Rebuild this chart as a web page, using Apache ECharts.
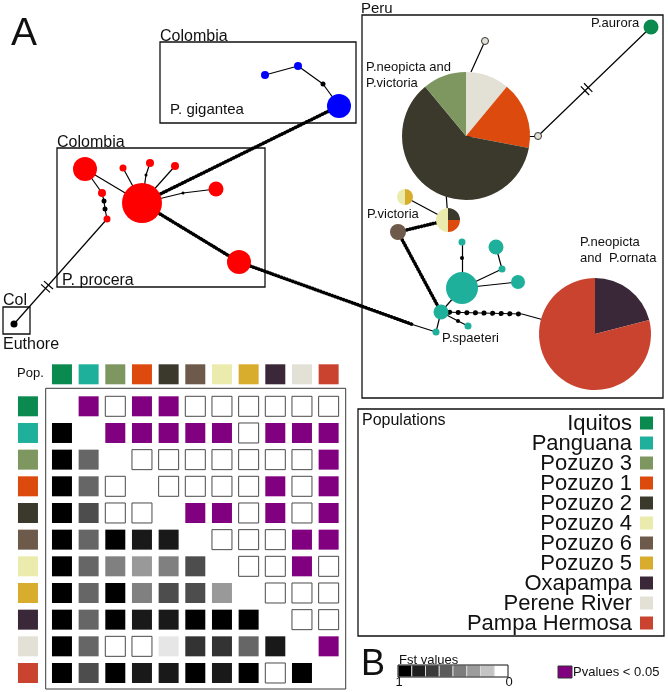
<!DOCTYPE html>
<html>
<head>
<meta charset="utf-8">
<title>Haplotype network and pairwise Fst</title>
<script src="https://cdn.jsdelivr.net/npm/echarts@6/dist/echarts.min.js"></script>
<style>
html, body { margin: 0; padding: 0; background: #fff; }
#main { width: 668px; height: 692px; }
</style>
</head>
<body>
<div id="main"></div>
<script>
// populations, legend order
var legendPops = ['Iquitos', 'Panguana', 'Pozuzo 3', 'Pozuzo 1', 'Pozuzo 2', 'Pozuzo 4', 'Pozuzo 6', 'Pozuzo 5', 'Oxapampa', 'Perene River', 'Pampa Hermosa'];
// populations, matrix order (rows and columns)
var matrixPops = ['Iquitos', 'Panguana', 'Pozuzo 3', 'Pozuzo 1', 'Pozuzo 2', 'Pozuzo 6', 'Pozuzo 4', 'Pozuzo 5', 'Oxapampa', 'Perene River', 'Pampa Hermosa'];

var popColors = {
    'Iquitos': '#0b8a50',
    'Panguana': '#1fb09c',
    'Pozuzo 3': '#7e9660',
    'Pozuzo 1': '#dc4a0e',
    'Pozuzo 2': '#3b392c',
    'Pozuzo 4': '#ecebae',
    'Pozuzo 6': '#6d5a4a',
    'Pozuzo 5': '#d8ac2c',
    'Oxapampa': '#3a2838',
    'Perene River': '#e3e1d6',
    'Pampa Hermosa': '#c9432e',
    'procera': '#ff0000',
    'gigantea': '#0000ff',
    'median': '#000000'
}

// pairwise Fst, lower triangle (row i, columns 0..i-1)
var fstRows = [
    [],
    [1],
    [1, 0.6],
    [1, 0.6, 0],
    [1, 0.7, 0, 0],
    [1, 0.6, 1, 0.9, 0.9],
    [1, 0.6, 0.5, 0.4, 0.5, 0.7],
    [1, 0.6, 1, 0.5, 0.7, 0.7, 0.4],
    [1, 0.6, 1, 0.9, 0.9, 1, 1, 1],
    [1, 0.6, 0, 0, 0.1, 0.8, 0.8, 0.6, 0.9],
    [1, 0.7, 1, 0.9, 0.9, 1, 0.9, 1, 0, 1]
]
// p < 0.05, upper triangle (row i, columns i+1..10), 1 = significant
var pSigRows = [
    [1, 0, 1, 1, 0, 0, 0, 0, 0, 0],
    [1, 1, 1, 1, 1, 0, 1, 1, 1],
    [0, 0, 0, 0, 0, 0, 0, 1],
    [0, 0, 0, 0, 1, 0, 1],
    [1, 1, 0, 1, 0, 1],
    [0, 0, 0, 1, 1],
    [0, 0, 1, 0],
    [0, 0, 0],
    [0, 0],
    [1],
    []
]
var fstLegend = [1, 0.88, 0.77, 0.64, 0.51, 0.39, 0.23, 0];

// haplotype network: [id, x, y, size, group]
var nodes = [
    ['eu', 14, 324, 7, 'median'],
    ['r0', 142, 203, 40, 'procera'],
    ['r1', 85, 169, 24, 'procera'],
    ['r2', 123, 168, 7, 'procera'],
    ['r3', 150, 163, 8, 'procera'],
    ['r4', 175, 166, 8, 'procera'],
    ['r5', 216, 189, 15, 'procera'],
    ['r6', 102, 193, 8, 'procera'],
    ['r7', 107, 219, 7, 'procera'],
    ['r8', 239, 262, 24, 'procera'],
    ['m1', 104, 201, 5, 'median'],
    ['m2', 105, 209, 5, 'median'],
    ['m3', 146, 175, 3, 'median'],
    ['m4', 183, 193, 3, 'median'],
    ['b0', 339, 106, 24, 'gigantea'],
    ['b1', 298, 66, 8, 'gigantea'],
    ['b2', 265, 75, 8, 'gigantea'],
    ['m5', 323, 84, 5, 'median'],
    ['pie1', 466, 136, 0, ''],
    ['a1', 471, 72, 0, ''],
    ['a2', 446, 192, 0, ''],
    ['pe1', 485, 41, 7, 'Perene River'],
    ['pe2', 538, 136, 7, 'Perene River'],
    ['aur', 651, 27, 15, 'Iquitos'],
    ['q4', 448, 220, 0, ''],
    ['h2', 405, 197, 0, ''],
    ['br', 398, 232, 16, 'Pozuzo 6'],
    ['t0', 462, 288, 32, 'Panguana'],
    ['t1', 462, 242, 7, 'Panguana'],
    ['m6', 462, 258, 4, 'median'],
    ['t2', 496, 247, 15, 'Panguana'],
    ['t3', 502, 269, 7, 'Panguana'],
    ['t4', 518, 282, 14, 'Panguana'],
    ['hub', 441, 312, 15, 'Panguana'],
    ['t5', 436, 332, 7, 'Panguana'],
    ['t6', 468, 326, 7, 'Panguana'],
    ['m7', 458, 321, 4, 'median'],
    ['pie2', 595, 334, 0, ''],
    ['a3', 522, 314, 0, ''],
    ['a4', 414, 325, 0, '']
]
var thinEdges = [
    ['eu', 'r7'], ['r7', 'm2'], ['m2', 'm1'], ['m1', 'r6'], ['r6', 'r1'], ['r1', 'r0'],
    ['r0', 'r2'], ['r0', 'm3'], ['m3', 'r3'], ['r0', 'r4'], ['r0', 'm4'], ['m4', 'r5'],
    ['b0', 'm5'], ['m5', 'b1'], ['b1', 'b2'],
    ['a1', 'pe1'], ['pie1', 'pe2'], ['pe2', 'aur'], ['a2', 'q4'], ['q4', 'h2'],
    ['t0', 'm6'], ['m6', 't1'], ['t0', 't3'], ['t3', 't2'], ['t0', 't4'], ['t0', 'hub'],
    ['hub', 't5'], ['hub', 'm7'], ['m7', 't6'], ['a4', 't5'], ['a3', 'pie2']
]
var beadEdges = [['r0', 'b0'], ['r0', 'r8'], ['r8', 'a4'], ['br', 'q4'], ['br', 'hub']];
var bigBeadEdges = [['hub', 'a3']];
var breaks = [['r7', 'eu', 0.645], ['pe2', 'aur', 0.43]];

// haplotypes shared by several populations
var pie1Pops = ['Perene River', 'Pozuzo 1', 'Pozuzo 2', 'Pozuzo 3'];
var pie1Vals = [11, 17, 61, 11];
var pie2Pops = ['Oxapampa', 'Pampa Hermosa'];
var pie2Vals = [21, 79];
var q4Pops = ['Pozuzo 2', 'Pozuzo 1', 'Pozuzo 4'];
var q4Vals = [1, 1, 2];
var h2Pops = ['Pozuzo 5', 'Pozuzo 4'];
var h2Vals = [1, 1];

var FONT = '"Liberation Sans", Arial, sans-serif';

var chart = echarts.init(document.getElementById('main'));

var byId = {};
nodes.forEach(function (n) { byId[n[0]] = n; });
var xy = function (id) { return [byId[id][1], byId[id][2]]; };

var graphData = nodes.map(function (n) {
    var perene = n[4] === 'Perene River';
    return {
        name: n[0],
        value: [n[1], n[2]],
        symbolSize: n[3],
        itemStyle: {
            color: popColors[n[4]] || 'rgba(0,0,0,0)',
            borderColor: perene ? '#333' : 'rgba(0,0,0,0)',
            borderWidth: perene ? 1 : 0,
            opacity: 1
        }
    }
})
var links = thinEdges.concat(beadEdges, bigBeadEdges).map(function (e) {
    return { source: e[0], target: e[1] };
})

// little double bars on the shortened branches
var hashData = [];
breaks.forEach(function (b) {
    var p = xy(b[0]), q = xy(b[1]);
    var dx = q[0] - p[0], dy = q[1] - p[1];
    var len = Math.sqrt(dx * dx + dy * dy);
    var ux = dx / len, uy = dy / len;
    var cx = p[0] + dx * b[2], cy = p[1] + dy * b[2];
    [-2.2, 2.2].forEach(function (s) {
        var mx = cx + ux * s, my = cy + uy * s;
        hashData.push({ coords: [[mx - uy * 6, my + ux * 6], [mx + uy * 6, my - ux * 6]] });
    })
})

function gray(v) {
    var g = Math.round(255 * (1 - v));
    return 'rgb(' + g + ',' + g + ',' + g + ')';
}

// matrix cells
var cells = [];
matrixPops.forEach(function (p, i) {
    fstRows[i].forEach(function (v, j) {
        cells.push({
            value: [j, i],
            itemStyle: { color: gray(v), borderColor: v === 0 ? '#4a4a4a' : gray(v), borderWidth: v === 0 ? 1 : 0, opacity: 1 }
        })
    })
    pSigRows[i].forEach(function (s, k) {
        cells.push({
            value: [i + 1 + k, i],
            itemStyle: { color: s ? '#800080' : '#fff', borderColor: s ? '#800080' : '#4a4a4a', borderWidth: s ? 0 : 1, opacity: 1 }
        })
    })
})
var topSquares = matrixPops.map(function (p, j) { return { value: [j, -1.2], itemStyle: { color: popColors[p], opacity: 1 } }; });
var leftSquares = matrixPops.map(function (p, i) { return { value: [-1.275, i], itemStyle: { color: popColors[p], opacity: 1 } }; });

function txt(s, x, y, size, align) {
    return {
        type: 'text', silent: true, z: 100,
        style: {
            text: s, x: x, y: y, fontSize: size, fontFamily: FONT, fill: '#111',
            textAlign: align || 'left', align: align || 'left',
            textVerticalAlign: 'middle', verticalAlign: 'middle'
        }
    }
}
function box(x, y, w, h) {
    return { type: 'rect', silent: true, z: 1, shape: { x: x, y: y, width: w, height: h }, style: { fill: 'none', stroke: '#111', lineWidth: 1.3 } };
}

var graphics = [
    box(160, 42, 196, 81), box(57, 148, 208, 139), box(3, 307, 27, 27), box(362, 15, 301, 383),
    box(358, 409, 306, 227),
    txt('A', 11, 34, 39),
    txt('Colombia', 160, 37, 16), txt('P. gigantea', 170, 110, 15),
    txt('Colombia', 57, 143, 16), txt('P. procera', 62, 281, 16),
    txt('Col', 3, 301, 16), txt('Euthore', 3, 345, 16),
    txt('Peru', 361, 8.5, 15),
    txt('P.aurora', 591, 23.5, 13),
    txt('P.neopicta and', 366, 67.5, 13), txt('P.victoria', 366, 83.5, 13),
    txt('P.victoria', 367, 214.5, 13),
    txt('P.neopicta', 580, 242.5, 13), txt('and  P.ornata', 580, 258.5, 13),
    txt('P.spaeteri', 442, 338.5, 13),
    txt('Pop.', 17, 373, 13),
    txt('Populations', 362, 421, 16),
    txt('B', 361, 665, 36),
    txt('Fst values', 399, 660, 13),
    txt('1', 399, 682.5, 13, 'center'), txt('0', 509, 682.5, 13, 'center'),
    txt('Pvalues < 0.05', 573, 672.5, 13),
    { type: 'rect', silent: true, shape: { x: 558, y: 666, width: 14, height: 12 }, style: { fill: '#800080', stroke: '#333', lineWidth: 1 } }
]
legendPops.forEach(function (p, i) {
    var cy = 423 + 20 * i;
    graphics.push(txt(p, 632, cy + 1, 22, 'right'));
    graphics.push({ type: 'rect', silent: true, shape: { x: 640, y: cy - 6.5, width: 13, height: 13 }, style: { fill: popColors[p] } });
})
fstLegend.forEach(function (v, k) {
    graphics.push({ type: 'rect', silent: true, shape: { x: 398 + k * 13.75, y: 665, width: 13.75, height: 12 }, style: { fill: gray(v), stroke: '#d8d8d8', lineWidth: 1 } });
})
graphics.push({ type: 'rect', silent: true, z: 101, shape: { x: 398, y: 665, width: 110, height: 12 }, style: { fill: 'none', stroke: '#222', lineWidth: 1 } });

var option = {
    backgroundColor: '#fff',
    animation: false,
    grid: [
        { left: 0, top: 0, width: 668, height: 692 },
        { left: 45.7, top: 388.3, width: 300, height: 300.7, show: true, borderColor: '#3a3a3a', borderWidth: 1 }
    ],
    xAxis: [
        { type: 'value', gridIndex: 0, min: 0, max: 668, show: false },
        { type: 'value', gridIndex: 1, min: -0.61, max: 10.64, show: false }
    ],
    yAxis: [
        { type: 'value', gridIndex: 0, min: 0, max: 692, inverse: true, show: false },
        { type: 'value', gridIndex: 1, min: -0.675, max: 10.6, inverse: true, show: false }
    ],
    graphic: graphics,
    series: [
        {
            type: 'lines', coordinateSystem: 'cartesian2d', xAxisIndex: 0, yAxisIndex: 0, silent: true,
            lineStyle: { color: '#000', width: 3.6, type: [0.4, 2.6], cap: 'round', opacity: 1 },
            data: beadEdges.map(function (e) { return { coords: [xy(e[0]), xy(e[1])] }; })
        },
        {
            type: 'lines', coordinateSystem: 'cartesian2d', xAxisIndex: 0, yAxisIndex: 0, silent: true,
            lineStyle: { color: '#000', width: 5, type: [0.1, 8.5], cap: 'round', opacity: 1 },
            data: bigBeadEdges.map(function (e) { return { coords: [xy(e[0]), xy(e[1])] }; })
        },
        {
            type: 'lines', coordinateSystem: 'cartesian2d', xAxisIndex: 0, yAxisIndex: 0, silent: true,
            lineStyle: { color: '#000', width: 1.2, opacity: 1 },
            data: hashData
        },
        {
            type: 'graph', coordinateSystem: 'cartesian2d', xAxisIndex: 0, yAxisIndex: 0,
            layout: 'none', silent: true, symbol: 'circle',
            label: { show: false },
            lineStyle: { color: '#000', width: 1.2, opacity: 1, curveness: 0 },
            emphasis: { disabled: true },
            data: graphData,
            links: links
        },
        {
            type: 'scatter', xAxisIndex: 1, yAxisIndex: 1, symbol: 'rect', symbolSize: 20, silent: true,
            itemStyle: { opacity: 1 },
            data: cells
        },
        {
            type: 'scatter', xAxisIndex: 1, yAxisIndex: 1, symbol: 'rect', symbolSize: 20, silent: true, clip: false,
            itemStyle: { opacity: 1 },
            data: topSquares.concat(leftSquares)
        }
    ]
}
chart.setOption(option);

// pies sit on the network nodes
function pie(id, r, names, vals) {
    var c = chart.convertToPixel({ xAxisIndex: 0, yAxisIndex: 0 }, xy(id));
    return {
        type: 'pie', center: c, radius: r, startAngle: 90, clockwise: true, silent: true,
        label: { show: false }, labelLine: { show: false },
        itemStyle: { borderWidth: 0 },
        emphasis: { disabled: true },
        data: names.map(function (p, i) { return { name: p, value: vals[i], itemStyle: { color: popColors[p] } }; })
    }
}
option.series.push(
    pie('pie1', 64, pie1Pops, pie1Vals),
    pie('pie2', 56, pie2Pops, pie2Vals),
    pie('q4', 12, q4Pops, q4Vals),
    pie('h2', 8, h2Pops, h2Vals)
)
chart.setOption(option, true);
</script>
</body>
</html>
